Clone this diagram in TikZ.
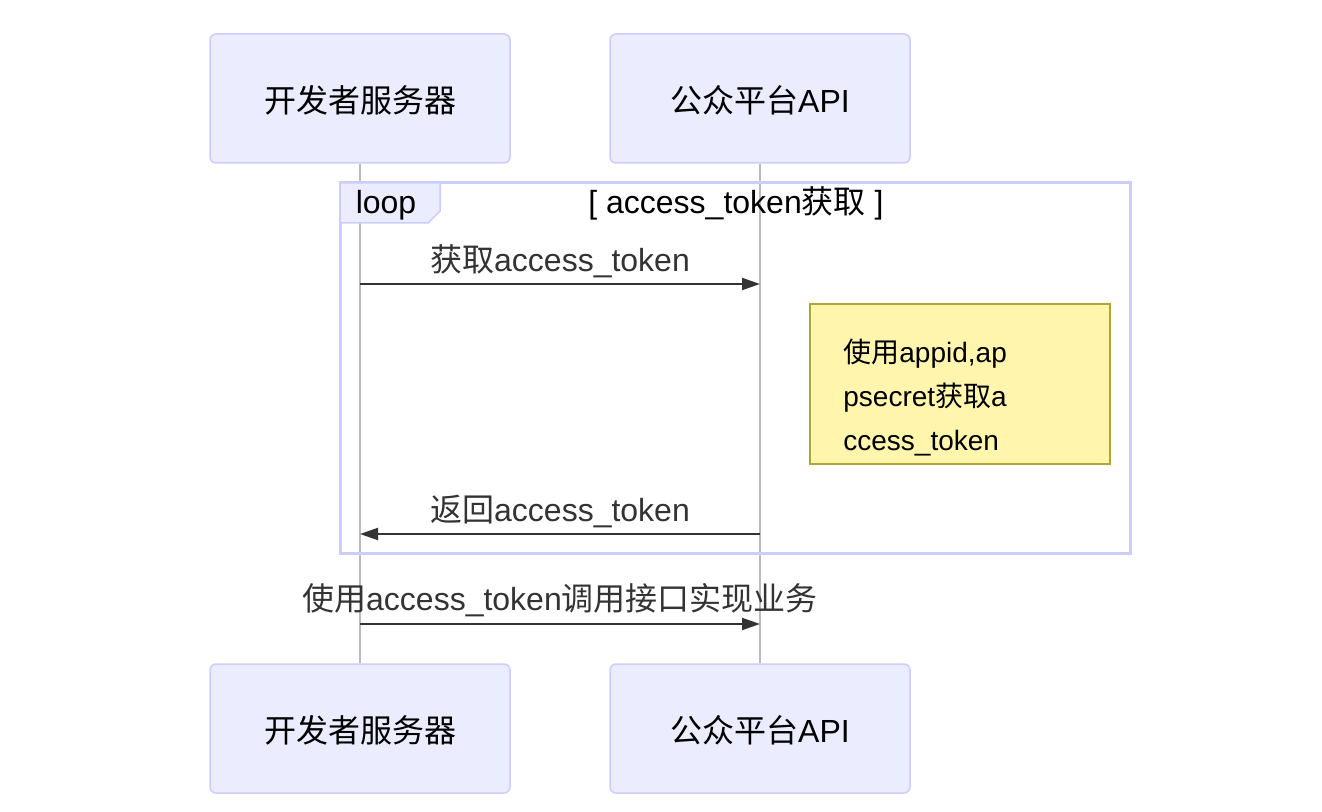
\documentclass[tikz,border=0pt]{standalone}
\usepackage{fontspec}
\setmainfont{Liberation Sans}
\newfontfamily\cjk{Noto Sans CJK SC}
\usetikzlibrary{arrows.meta}
\definecolor{actorfill}{HTML}{ECECFF}
\definecolor{actorline}{HTML}{CCCCFF}
\definecolor{notefill}{HTML}{FFF5AD}
\definecolor{noteline}{HTML}{AAAA33}
\definecolor{lifegray}{HTML}{BBBBBB}
\definecolor{msgtext}{HTML}{333333}

\begin{document}
\begin{tikzpicture}[
        x=0.5pt,
        y=-0.5pt,
        actor/.style={
            draw=actorline,
            fill=actorfill,
            line width=0.75pt,
            rounded corners=3pt,
            minimum width=150pt,
            minimum height=64.5pt,
            text height=16pt,
            text depth=2pt,
            font=\fontsize{16}{19}\selectfont,
        },
        msglabel/.style={
            anchor=base,
            inner sep=0pt,
            text=msgtext,
            font=\fontsize{16}{19}\selectfont,
        },
        msgline/.style={
            draw=msgtext,
            line width=1pt,
            -{Triangle[length=9pt, width=6pt]},
        },
        notebox/.style={
            draw=noteline,
            fill=notefill,
            line width=1pt,
            minimum width=150pt,
            minimum height=80pt,
        },
    ]

    \useasboundingbox (0, 0) rectangle (1322, 812);

    % actors
    \node[actor] (devtop) at (360, 98.5) {{\cjk 开发者服务器}};
    \node[actor] (apitop) at (760, 98.5) {{\cjk 公众平台}API};
    \node[actor] (devbot) at (360, 728.5) {{\cjk 开发者服务器}};
    \node[actor] (apibot) at (760, 728.5) {{\cjk 公众平台}API};

    % lifelines
    \begin{scope}[draw=lifegray, line width=0.75pt]
        \draw (devtop.south) -- (devbot.north);
        \draw (apitop.south) -- (apibot.north);
    \end{scope}

    % loop frame
    \draw[actorline, line width=1.5pt] (340, 183) rectangle (1130, 553);
    \draw[draw=actorline, fill=actorfill, line width=0.75pt]
        (340, 183) -- (440, 183) -- (440, 211) -- (428, 223) -- (340, 223) -- cycle;
    \node[anchor=base, inner sep=0pt, font=\fontsize{16}{19}\selectfont] (looplbl) at (386, 214) {loop};
    \node[anchor=base, inner sep=0pt, font=\fontsize{16}{19}\selectfont] (loopcond) at (736, 214) {[ access\_token{\cjk 获取} ]};

    % messages
    \coordinate (d1) at (360, 284);
    \coordinate (a1) at (760, 284);
    \coordinate (d2) at (360, 534);
    \coordinate (a2) at (760, 534);
    \coordinate (d3) at (360, 624);
    \coordinate (a3) at (760, 624);

    \node[msglabel] (m1) at (560, 271.5) {{\cjk 获取}access\_token};
    \node[msglabel] (m2) at (560, 521.5) {{\cjk 返回}access\_token};
    \node[msglabel] (m3) at (560, 610.5) {{\cjk 使用}access\_token{\cjk 调用接口实现业务}};

    \draw[msgline] (d1) -- (a1);
    \draw[msgline] (a2) -- (d2);
    \draw[msgline] (d3) -- (a3);

    % note
    \node[notebox] (note) at (960, 384) {};
    \node[anchor=base west, inner sep=0pt, align=left, text width=130pt,
        font=\fontsize{14}{22}\selectfont] (notetext) at (843, 363)
        {{\cjk 使用}appid,ap\\psecret{\cjk 获取}a\\ccess\_token};
\end{tikzpicture}
\end{document}
